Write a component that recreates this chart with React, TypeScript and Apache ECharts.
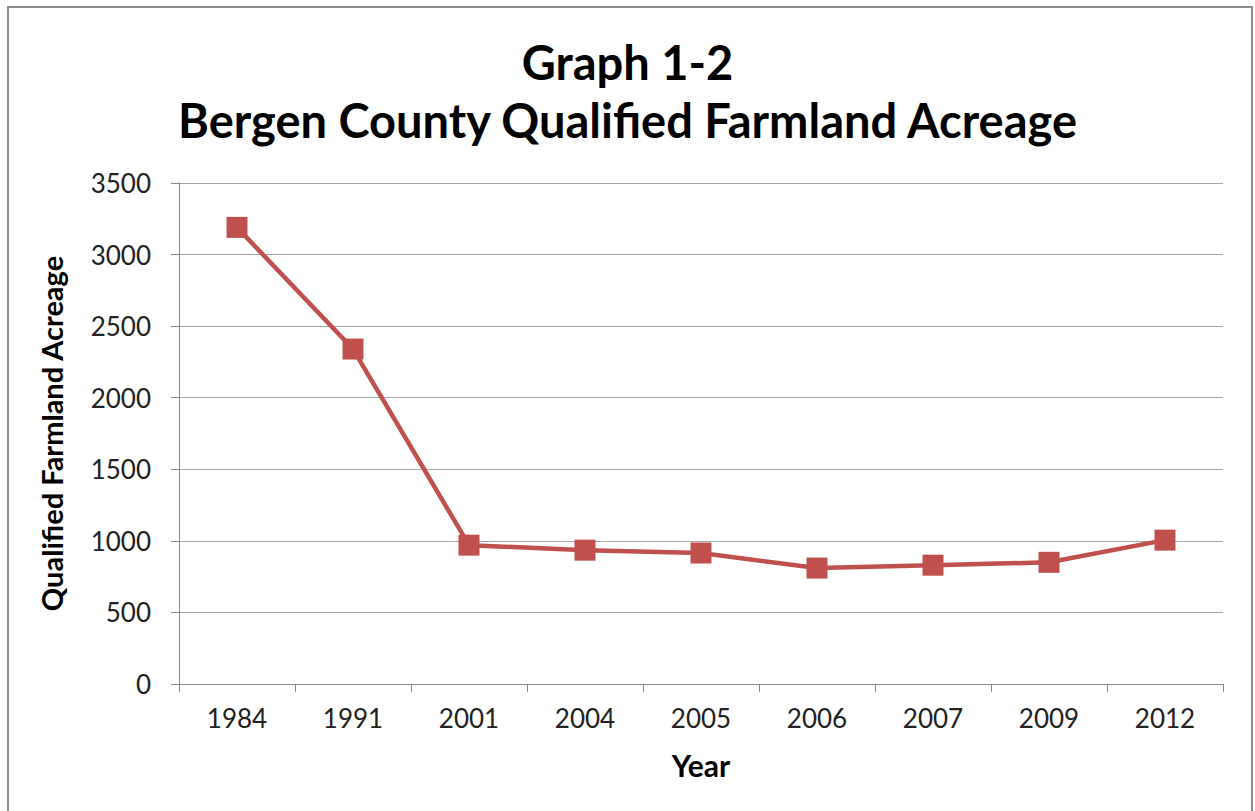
import React, { useEffect, useRef } from "react";
import * as echarts from "echarts";

const years = ["1984", "1991", "2001", "2004", "2005", "2006", "2007", "2009", "2012"];
const acreage = [3190, 2340, 970, 935, 915, 810, 830, 850, 1005];
const titleLines = ["Graph 1-2", "Bergen County Qualified Farmland Acreage"];
const yAxisTitle = "Qualified Farmland Acreage";
const xAxisTitle = "Year";

const FONT = "Lato, 'Open Sans', sans-serif";

export default function App() {
  const ref = useRef<HTMLDivElement>(null);
  useEffect(() => {
    const chart = echarts.init(ref.current!, null, { renderer: "svg" });
    chart.setOption({
      animation: false,
      backgroundColor: "#ffffff",
      title: {
        text: titleLines.join("\n"),
        left: "center",
        top: 28,
        textStyle: {
          fontFamily: FONT,
          fontWeight: "bold",
          fontSize: 47,
          lineHeight: 58,
          color: "#000",
        },
      },
      graphic: [
        {
          type: "rect",
          shape: { x: 8, y: 7, width: 1244, height: 830 },
          style: { fill: "none", stroke: "#8c8c8c", lineWidth: 2 },
          silent: true,
        },
      ],
      grid: { left: 179, right: 32, top: 183, bottom: 127 },
      xAxis: {
        type: "category",
        data: years,
        boundaryGap: true,
        name: xAxisTitle,
        nameLocation: "middle",
        nameGap: 66,
        nameTextStyle: { fontFamily: FONT, fontWeight: "bold", fontSize: 30, color: "#000" },
        axisLine: { lineStyle: { color: "#888", width: 1 } },
        axisTick: { show: true, length: 8, lineStyle: { color: "#888" } },
        axisLabel: { fontFamily: FONT, fontSize: 26, color: "#222", margin: 21 },
        splitLine: { show: false },
      },
      yAxis: {
        type: "value",
        min: 0,
        max: 3500,
        interval: 500,
        name: yAxisTitle,
        nameLocation: "middle",
        nameGap: 113,
        nameRotate: 90,
        nameTextStyle: { fontFamily: FONT, fontWeight: "bold", fontSize: 29, color: "#000" },
        axisLine: { show: true, lineStyle: { color: "#888", width: 1 } },
        axisTick: { show: true, length: 8, lineStyle: { color: "#888" } },
        axisLabel: {
          fontFamily: FONT,
          fontSize: 26,
          color: "#222",
          margin: 28,
          formatter: (v: number) => String(v),
        },
        splitLine: { show: true, lineStyle: { color: "#a6a6a6", width: 1 } },
      },
      series: [
        {
          type: "line",
          data: acreage,
          symbol: "rect",
          symbolSize: 21,
          lineStyle: { color: "#C0504D", width: 4.5 },
          itemStyle: { color: "#C0504D" },
        },
      ],
    });
    return () => chart.dispose();
  }, []);
  return (
    <div
      ref={ref}
      style={{ position: "absolute", left: 0, top: 0, width: 1255, height: 811 }}
    />
  );
}
